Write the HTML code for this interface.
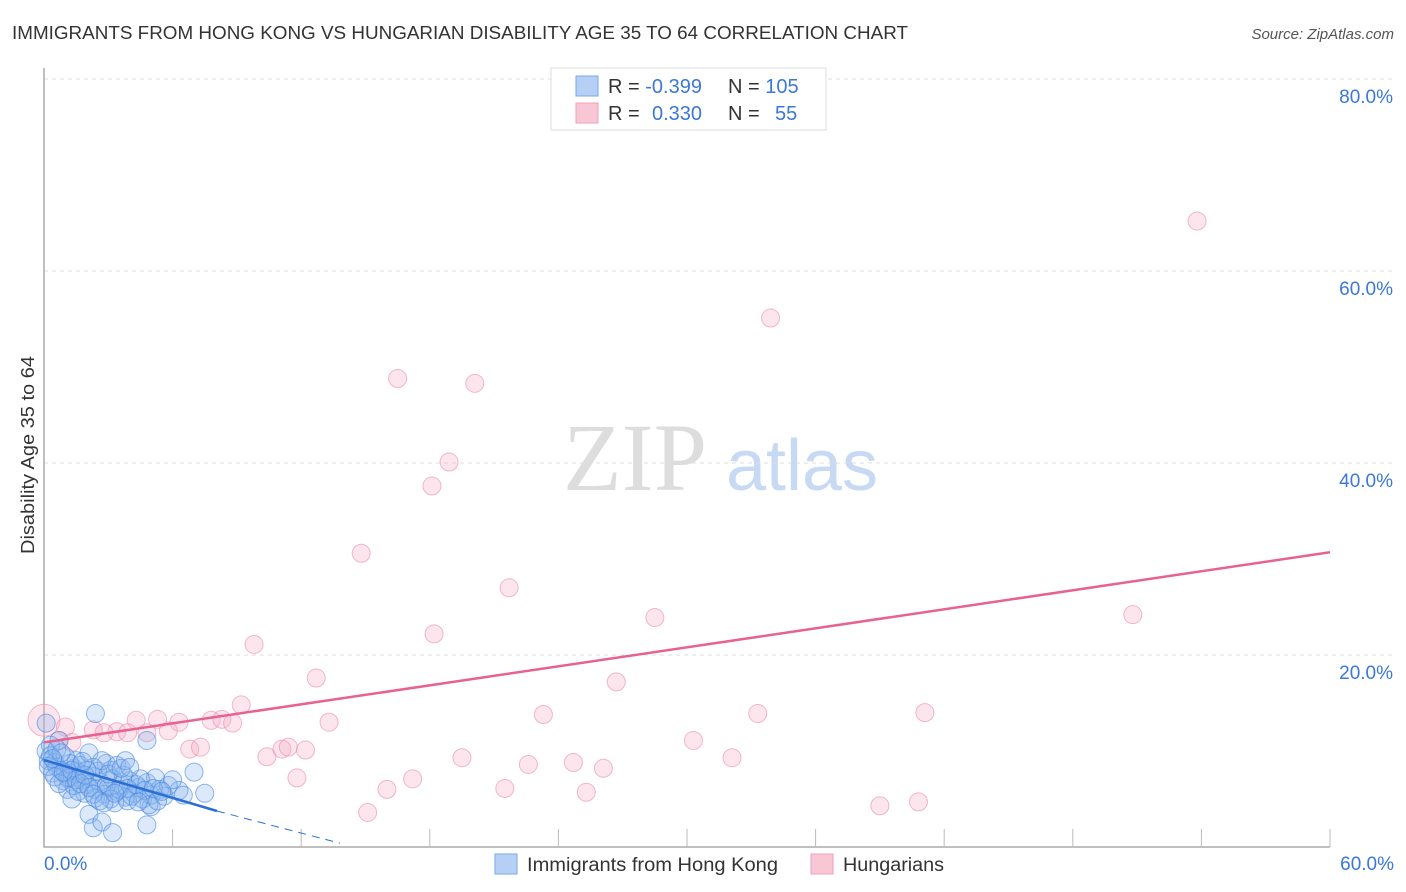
<!DOCTYPE html>
<html><head><meta charset="utf-8"><style>
body{margin:0;background:#fff;font-family:"Liberation Sans",sans-serif;}
svg{display:block}
</style></head><body>
<svg id="chart" width="1406" height="892" xmlns="http://www.w3.org/2000/svg">
<text x="12" y="39" font-size="18" fill="#333" textLength="896" lengthAdjust="spacingAndGlyphs">IMMIGRANTS FROM HONG KONG VS HUNGARIAN DISABILITY AGE 35 TO 64 CORRELATION CHART</text>
<text x="1394" y="39" font-size="15" fill="#555" font-style="italic" text-anchor="end">Source: ZipAtlas.com</text>
<text x="34" y="455" font-size="18" fill="#333" text-anchor="middle" textLength="198" lengthAdjust="spacingAndGlyphs" transform="rotate(-90 34 455)">Disability Age 35 to 64</text>
<g>
<text x="635" y="490" font-size="96" fill="#ddd" font-family="Liberation Serif,serif" text-anchor="middle">ZIP</text>
<text x="802" y="490" font-size="72" fill="#c8daf3" text-anchor="middle">atlas</text>
</g>
<g id="grid"></g><g id="axes"></g><g id="marks"></g><g id="trends"></g>
<g>
<rect x="551" y="68" width="275" height="62" fill="#fff" stroke="#ddd"/>
<rect x="576" y="76" width="22" height="20" fill="#b6d0f5" stroke="#7ba7e8"/>
<rect x="576" y="103" width="22" height="20" fill="#f9c6d6" stroke="#eea0b8"/>
<text x="608" y="93" font-size="20" fill="#333">R = <tspan fill="#3b78d8">-0.399</tspan></text>
<text x="728" y="93" font-size="20" fill="#333">N = <tspan fill="#3b78d8">105</tspan></text>
<text x="608" y="120" font-size="20" fill="#333">R = <tspan fill="#3b78d8" x="652">0.330</tspan></text>
<text x="728" y="120" font-size="20" fill="#333">N = <tspan fill="#3b78d8" x="775">55</tspan></text>
</g>
<g>
<rect x="495" y="854" width="22" height="20" fill="#b6d0f5" stroke="#7ba7e8"/>
<text x="527" y="871" font-size="19" fill="#333" textLength="251" lengthAdjust="spacingAndGlyphs">Immigrants from Hong Kong</text>
<rect x="811" y="854" width="22" height="20" fill="#f9c6d6" stroke="#eea0b8"/>
<text x="843" y="871" font-size="19" fill="#333" textLength="101" lengthAdjust="spacingAndGlyphs">Hungarians</text>
</g>
</svg>
<script>
const yTicks=[20,40,60,80];
const xTickVals=[6,12,18,24,30,36,42,48,54,60];
const pinkX=[53.8,33.9,16.5,20.1,18.9,18.1,14.8,21.7,28.5,50.8,18.2,9.8,12.7,26.7,9.2,0.0,1.0,4.3,5.3,6.3,7.8,8.3,8.8,13.3,23.3,33.3,41.1,3.4,2.3,2.8,3.9,4.8,5.8,0.7,6.8,7.3,10.4,11.1,11.4,12.2,30.3,32.1,19.5,22.6,24.7,26.1,11.8,17.2,16.0,21.5,25.3,15.1,39.0,40.8,1.3];
const pinkY=[65.2,55.1,48.8,48.3,40.1,37.6,30.6,27.0,23.9,24.2,22.2,21.1,17.6,17.2,14.8,13.2,12.5,13.2,13.3,13.0,13.2,13.3,12.9,13.0,13.8,13.9,14.0,12.0,12.2,11.9,11.9,11.9,12.1,11.1,10.2,10.4,9.4,10.2,10.4,10.1,11.1,9.3,9.3,8.6,8.8,8.2,7.2,7.1,6.0,6.1,5.7,3.6,4.3,4.7,10.9];
const blueX=[2.4,4.8,7.0,6.3,5.0,2.1,2.3,2.7,3.2,4.8,2.9,3.1,0.7,0.3,0.2,0.1,0.1,0.3,0.5,0.6,0.8,1.0,1.2,1.4,1.6,1.8,2.0,2.2,2.4,2.6,2.8,3.0,3.2,3.4,3.6,3.8,4.0,4.2,4.4,4.6,4.8,5.0,5.2,5.4,5.6,5.8,6.0,0.4,0.9,1.1,1.3,1.5,1.7,1.9,2.1,2.3,2.5,2.7,2.9,3.1,3.3,3.5,3.7,3.9,4.1,4.3,4.5,4.7,4.9,5.1,5.3,5.5,1.0,1.2,0.6,0.8,1.4,1.6,2.0,2.4,2.6,3.0,3.4,3.6,3.8,4.0,1.1,1.3,1.5,1.7,1.9,2.1,2.3,0.2,0.4,0.5,0.7,0.9,6.5,7.5,3.9,4.4,2.8,3.3,1.8];
const blueY=[13.9,11.1,7.8,5.9,4.2,3.4,2.0,2.6,1.5,2.3,8.7,8.0,11.1,10.6,9.0,12.9,10.0,9.5,8.8,8.3,8.0,7.6,7.2,8.2,7.8,7.0,6.5,7.4,6.0,6.8,5.5,6.2,7.1,5.8,6.5,5.2,6.9,5.6,6.2,5.0,6.7,5.4,7.2,6.0,5.3,6.4,7.0,7.7,6.9,6.0,5.0,9.0,8.5,5.6,9.8,8.3,7.9,9.0,6.3,5.0,4.6,6.0,7.5,4.8,5.3,6.5,7.1,5.9,4.4,6.1,4.8,5.8,9.4,8.7,10.2,9.8,6.4,5.8,8.0,5.1,4.8,7.6,8.5,8.2,9.0,8.3,7.2,8.0,7.0,6.6,7.5,6.2,5.5,8.4,9.2,7.3,6.6,7.8,5.4,5.6,6.1,4.7,4.6,5.6,8.9];
const blueTrend=[[0,9.06],[8.07,3.75]];
const blueDash=[[8.07,3.75],[13.8,0.4]];
const pinkTrend=[[0,10.9],[60,30.7]];
const X=v=>44+v/60*1286, Y=v=>847-v*9.6;
const NS="http://www.w3.org/2000/svg";
function mk(t,a,p){const e=document.createElementNS(NS,t);for(const k in a)e.setAttribute(k,a[k]);p.appendChild(e);return e;}
const grid=document.getElementById('grid'),axes=document.getElementById('axes'),marks=document.getElementById('marks'),trends=document.getElementById('trends');
yTicks.forEach(v=>{
 const l=mk('line',{x1:44,x2:1394,y1:Y(v),y2:Y(v),stroke:'#ddd','stroke-dasharray':'4,4'},grid);
 
 
 const t=mk('text',{x:1393,y:Y(v)+24,'font-size':19,fill:'#3b78d8','text-anchor':'end'},axes);
 t.textContent=v.toFixed(1)+'%';
 
 
});
const ax=mk('path',{d:'M44,68 V847 H1330',fill:'none',stroke:'#aaa','stroke-width':1.5},axes);


xTickVals.forEach(v=>{
 const l=mk('line',{x1:X(v),x2:X(v),y1:829,y2:847,stroke:'#bbb'},axes);
 
 
});
const t0=mk('text',{x:44,y:870,'font-size':19,fill:'#3b78d8'},axes);t0.textContent='0.0%';


const t1=mk('text',{x:1394,y:870,'font-size':19,fill:'#3b78d8','text-anchor':'end'},axes);t1.textContent='60.0%';


pinkX.forEach((v,i)=>{
 const c=mk('circle',{cx:X(v),cy:Y(pinkY[i]),r:(v===0?16:9),fill:'rgba(246,175,198,0.32)',stroke:'rgba(233,140,172,0.6)','stroke-width':1},marks);
 
 
});
blueX.forEach((v,i)=>{
 const c=mk('circle',{cx:X(v),cy:Y(blueY[i]),r:9,fill:'rgba(140,182,240,0.3)',stroke:'rgba(70,135,225,0.6)','stroke-width':1},marks);
 
 
});
const pt=mk('line',{x1:X(pinkTrend[0][0]),y1:Y(pinkTrend[0][1]),x2:X(pinkTrend[1][0]),y2:Y(pinkTrend[1][1]),stroke:'#e8628f','stroke-width':2.5},trends);


const bt=mk('line',{x1:X(blueTrend[0][0]),y1:Y(blueTrend[0][1]),x2:X(blueTrend[1][0]),y2:Y(blueTrend[1][1]),stroke:'#2a6fd6','stroke-width':2.5},trends);


const bd=mk('line',{x1:X(blueDash[0][0]),y1:Y(blueDash[0][1]),x2:X(blueDash[1][0]),y2:Y(blueDash[1][1]),stroke:'#2a6fd6','stroke-width':1,'stroke-dasharray':'8,6'},trends);


</script>
</body></html>
